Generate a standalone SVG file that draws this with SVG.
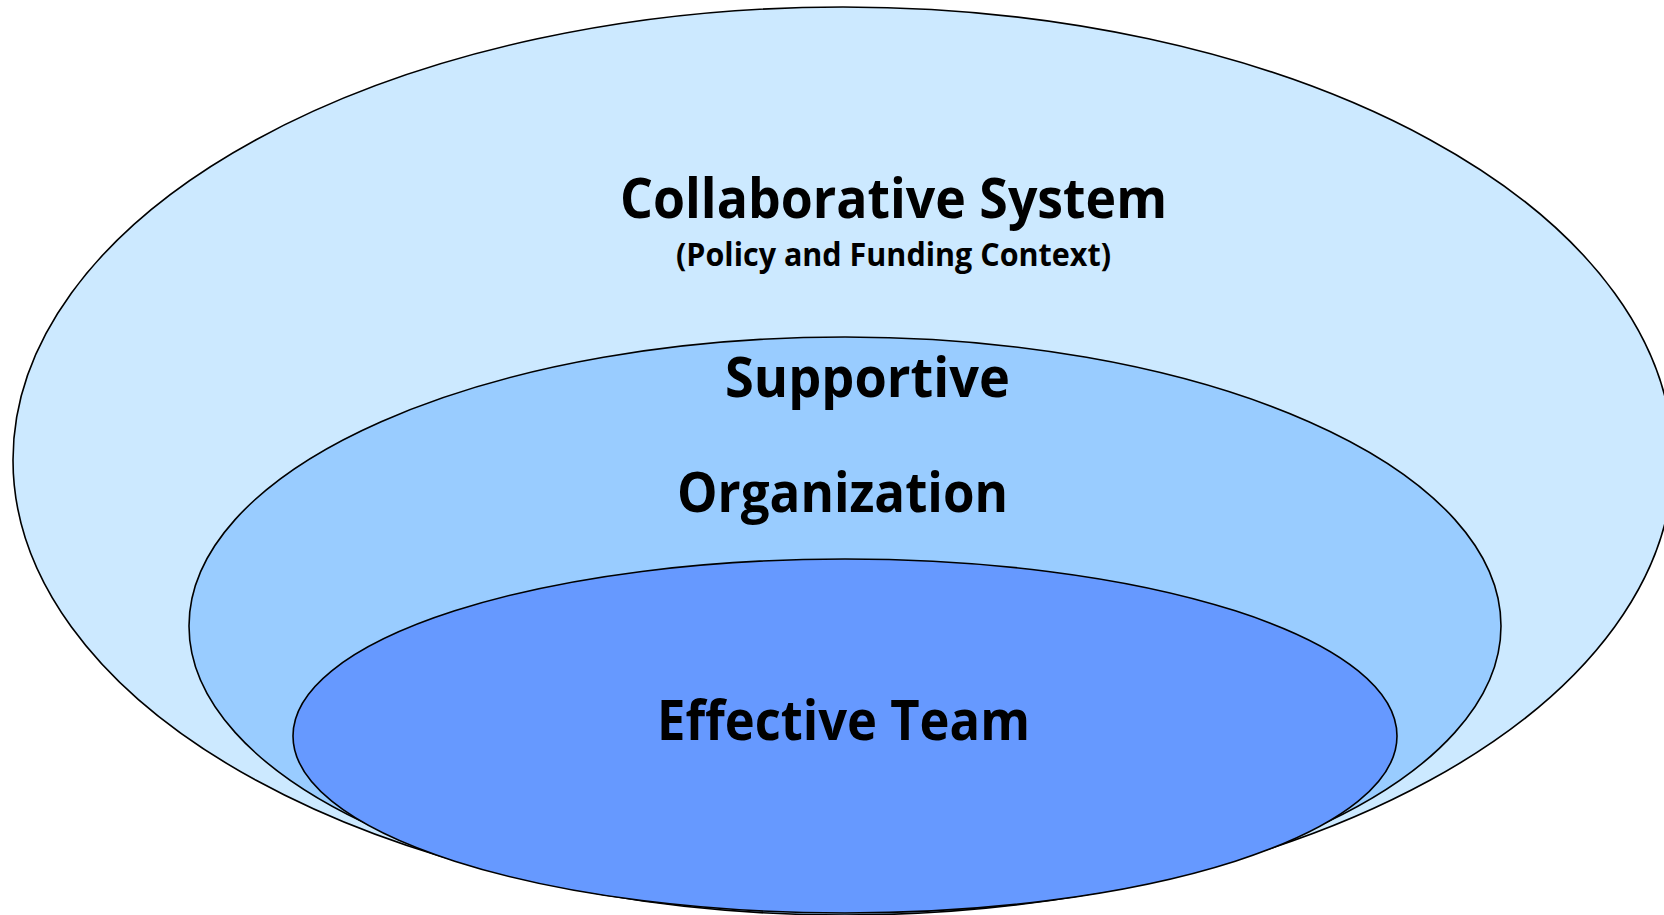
<svg xmlns="http://www.w3.org/2000/svg" width="1664" height="915" viewBox="0 0 1664 915">
  <style>
    .ring { stroke: #000; stroke-width: 1.6; }
    .label { font-family: "Open Sans", "Liberation Sans", sans-serif; font-weight: bold; fill: #000; }
  </style>
  <rect width="1664" height="915" fill="#fff"/>
  <g id="collaborative-system">
    <ellipse class="ring" cx="843" cy="460" rx="830" ry="453" fill="#CCE9FF"/>
    <text class="label" x="620" y="218" font-size="56" textLength="547" lengthAdjust="spacingAndGlyphs">Collaborative System</text>
    <text class="label" x="676" y="266" font-size="33" textLength="435" lengthAdjust="spacingAndGlyphs">(Policy and Funding Context)</text>
  </g>
  <g id="supportive-organization">
    <ellipse class="ring" cx="845" cy="626" rx="656" ry="289" fill="#99CCFF"/>
    <text class="label" x="725" y="397" font-size="55" textLength="285" lengthAdjust="spacingAndGlyphs">Supportive</text>
    <text class="label" x="677" y="512" font-size="55" textLength="331" lengthAdjust="spacingAndGlyphs">Organization</text>
  </g>
  <g id="effective-team">
    <ellipse class="ring" cx="845" cy="736" rx="552" ry="177" fill="#6699FF"/>
    <text class="label" x="657" y="740" font-size="55" textLength="373" lengthAdjust="spacingAndGlyphs">Effective Team</text>
  </g>
  <g id="connectors"/>
</svg>
